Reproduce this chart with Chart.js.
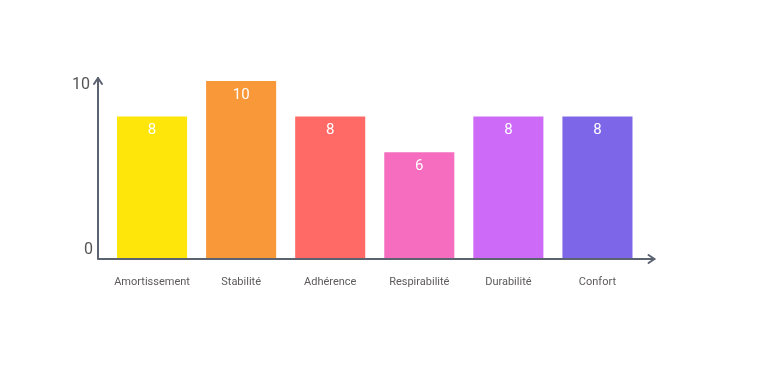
<!DOCTYPE html>
<html>
<head>
<meta charset="utf-8">
<script src="https://cdn.jsdelivr.net/npm/chart.js@4"></script>
<style>
  html, body { margin: 0; padding: 0; background: #fff; }
  #wrap { width: 768px; height: 367px; }
</style>
</head>
<body>
<div id="wrap"><canvas id="barChart" width="768" height="367"></canvas></div>
<script>
    var categories = ['Amortissement', 'Stabilité', 'Adhérence', 'Respirabilité', 'Durabilité', 'Confort'];
    var scores = [8, 10, 8, 6, 8, 8];
    var barColors = ['#FFE60A', '#F99839', '#FF6A67', '#F66DC0', '#CD6BF8', '#7E66E8'];
    var yTicks = [0, 10];

    var axisColor = '#5B6270';

    // draws the two axis lines with arrow heads, a bit past the plot area,
    // plus the two y labels (the 0 sits above the axis, the 10 just below the arrow)
    var arrowAxes = {
        id: 'arrowAxes',
        afterDraw: function(chart) {
            var ctx = chart.ctx;
            var yScale = chart.scales.y;
            var x0 = chart.scales.x.left - 9.5;
            var y0 = yScale.getPixelForValue(0);
            var yTop = yScale.getPixelForValue(10) - 3;
            var xEnd = chart.scales.x.right + 12.5;
            ctx.save();
            ctx.strokeStyle = axisColor;
            ctx.lineWidth = 2;
            ctx.lineCap = 'round';
            ctx.lineJoin = 'round';
            ctx.beginPath();
            ctx.moveTo(x0, yTop);
            ctx.lineTo(x0, y0);
            ctx.lineTo(xEnd, y0);
            ctx.stroke();
            ctx.beginPath();
            ctx.moveTo(x0 - 4, yTop + 6);
            ctx.lineTo(x0, yTop);
            ctx.lineTo(x0 + 4, yTop + 6);
            ctx.moveTo(xEnd - 6, y0 - 4);
            ctx.lineTo(xEnd, y0);
            ctx.lineTo(xEnd - 6, y0 + 4);
            ctx.stroke();

            ctx.fillStyle = '#555555';
            ctx.font = '16px Roboto';
            ctx.textAlign = 'right';
            ctx.textBaseline = 'middle';
            yTicks.forEach(function(v) {
                var py = yScale.getPixelForValue(v);
                if (v === 0) {
                    ctx.fillText(String(v), x0 - 5, py - 9);
                } else {
                    ctx.fillText(String(v), x0 - 8, py + 4);
                }
            });
            ctx.restore();
        }
    };

    // value label inside the top of each bar
    var barValues = {
        id: 'barValues',
        afterDatasetsDraw: function(chart) {
            var ctx = chart.ctx;
            var meta = chart.getDatasetMeta(0);
            ctx.save();
            ctx.fillStyle = '#ffffff';
            ctx.font = '15px Roboto';
            ctx.textAlign = 'center';
            ctx.textBaseline = 'middle';
            meta.data.forEach(function(bar, i) {
                ctx.fillText(String(scores[i]), bar.x, bar.y + 14);
            });
            ctx.restore();
        }
    };

    var ctxBar = document.getElementById('barChart').getContext('2d');
    var barChart = new Chart(ctxBar, {
        type: 'bar',
        data: {
            labels: categories,
            datasets: [{
                data: scores,
                backgroundColor: barColors,
                borderWidth: 0,
                categoryPercentage: 1,
                barPercentage: 70 / 89
            }]
        },
        options: {
            responsive: false,
            animation: false,
            layout: { padding: { left: 0, right: 126, top: 81, bottom: 0 } },
            plugins: {
                legend: { display: false },
                tooltip: { enabled: false }
            },
            scales: {
                x: {
                    grid: { display: false, drawTicks: false },
                    border: { display: false },
                    ticks: {
                        color: '#5E5A5A',
                        font: { family: 'Roboto', size: 11 },
                        padding: 17,
                        maxRotation: 0
                    },
                    afterFit: function(scale) { scale.height = 108; }
                },
                y: {
                    min: 0,
                    max: 10,
                    grid: { display: false, drawTicks: false },
                    border: { display: false },
                    ticks: { display: false },
                    afterFit: function(scale) { scale.width = 107.5; }
                }
            }
        },
        plugins: [arrowAxes, barValues]
    });
</script>
</body>
</html>
